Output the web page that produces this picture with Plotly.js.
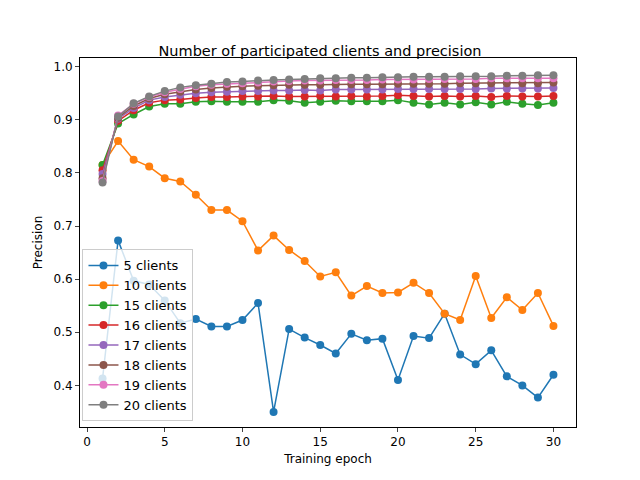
<!DOCTYPE html>
<html>
<head>
<script src="https://cdn.plot.ly/plotly-3.0.1.min.js"></script>
<style>body{margin:0}</style>
</head>
<body>
<div id="chart" style="width:640px;height:480px;"></div>
<script>
// epochs 1..30
const epochs = Array.from({length: 30}, (_, i) => i + 1);

const c5 = [0.413, 0.673, 0.597, 0.59, 0.56, 0.517, 0.525, 0.511, 0.511, 0.523, 0.555, 0.35, 0.506, 0.49, 0.476, 0.46, 0.497, 0.485, 0.488, 0.41, 0.493, 0.489, 0.535, 0.458, 0.44, 0.466, 0.417, 0.40, 0.377, 0.42];
const c10 = [0.815, 0.86, 0.825, 0.812, 0.79, 0.784, 0.759, 0.73, 0.73, 0.709, 0.654, 0.682, 0.655, 0.634, 0.605, 0.613, 0.569, 0.587, 0.574, 0.575, 0.593, 0.574, 0.535, 0.523, 0.606, 0.527, 0.566, 0.542, 0.574, 0.512];
const c15 = [0.815, 0.893, 0.91, 0.925, 0.93, 0.93, 0.934, 0.935, 0.934, 0.934, 0.934, 0.937, 0.936, 0.932, 0.934, 0.936, 0.935, 0.935, 0.935, 0.937, 0.932, 0.929, 0.932, 0.929, 0.933, 0.929, 0.934, 0.93, 0.928, 0.932];
const c16 = [0.805, 0.898, 0.918, 0.932, 0.937, 0.938, 0.941, 0.943, 0.943, 0.944, 0.944, 0.945, 0.944, 0.944, 0.945, 0.944, 0.945, 0.944, 0.945, 0.946, 0.945, 0.944, 0.945, 0.944, 0.945, 0.943, 0.945, 0.944, 0.944, 0.945];
const c17 = [0.798, 0.902, 0.922, 0.937, 0.943, 0.947, 0.95, 0.952, 0.953, 0.954, 0.954, 0.955, 0.955, 0.956, 0.955, 0.957, 0.957, 0.957, 0.957, 0.958, 0.958, 0.958, 0.958, 0.958, 0.958, 0.959, 0.959, 0.959, 0.959, 0.96];
const c18 = [0.79, 0.904, 0.926, 0.94, 0.948, 0.953, 0.957, 0.96, 0.962, 0.963, 0.964, 0.965, 0.966, 0.966, 0.966, 0.967, 0.967, 0.967, 0.967, 0.968, 0.968, 0.968, 0.968, 0.969, 0.969, 0.969, 0.969, 0.969, 0.969, 0.97];
const c19 = [0.785, 0.908, 0.93, 0.943, 0.952, 0.958, 0.963, 0.966, 0.968, 0.969, 0.97, 0.972, 0.973, 0.974, 0.974, 0.975, 0.975, 0.975, 0.976, 0.976, 0.976, 0.977, 0.977, 0.977, 0.977, 0.978, 0.978, 0.978, 0.978, 0.978];
const c20 = [0.782, 0.906, 0.931, 0.944, 0.954, 0.961, 0.965, 0.968, 0.971, 0.972, 0.974, 0.975, 0.976, 0.977, 0.978, 0.978, 0.979, 0.979, 0.98, 0.98, 0.981, 0.981, 0.981, 0.982, 0.982, 0.982, 0.983, 0.983, 0.984, 0.984];

const seriesNames = ["5 clients", "10 clients", "15 clients", "16 clients", "17 clients", "18 clients", "19 clients", "20 clients"];
const seriesValues = [c5, c10, c15, c16, c17, c18, c19, c20];
const colors = ["#1f77b4", "#ff7f0e", "#2ca02c", "#d62728", "#9467bd", "#8c564b", "#e377c2", "#7f7f7f"];

const traces = seriesValues.map((vals, i) => ({
  x: epochs, y: vals, name: seriesNames[i], type: "scatter", mode: "lines+markers",
  line: {color: colors[i], width: 1.5}, marker: {color: colors[i], size: 8}
}));

const layout = {
  width: 640, height: 480,
  paper_bgcolor: "white", plot_bgcolor: "white",
  font: {family: "DejaVu Sans", size: 12, color: "black"},
  margin: {l: 80, r: 64, t: 58, b: 53},
  title: {text: "Number of participated clients and precision", x: 0.5, y: 0.905, font: {size: 14.5}},
  xaxis: {
    title: {text: "Training epoch", standoff: 6, font: {size: 12}}, range: [-0.45, 31.45], tickvals: [0, 5, 10, 15, 20, 25, 30],
    showgrid: false, zeroline: false, showline: true, mirror: true, linecolor: "black",
    ticks: "outside", ticklen: 4
  },
  yaxis: {
    title: {text: "Precision", standoff: 8, font: {size: 12}}, range: [0.3217, 1.0163], tickvals: [0.4, 0.5, 0.6, 0.7, 0.8, 0.9, 1.0],
    tickformat: ".1f", showgrid: false, zeroline: false, showline: true, mirror: true, linecolor: "black",
    ticks: "outside", ticklen: 4
  },
  legend: {x: 0.005, y: 0.015, xanchor: "left", yanchor: "bottom", bordercolor: "#ccc", borderwidth: 1, bgcolor: "rgba(255,255,255,0.8)", font: {size: 13}, tracegroupgap: 0},
  showlegend: true
};

Plotly.newPlot("chart", traces, layout, {displayModeBar: false});
</script>
</body>
</html>
